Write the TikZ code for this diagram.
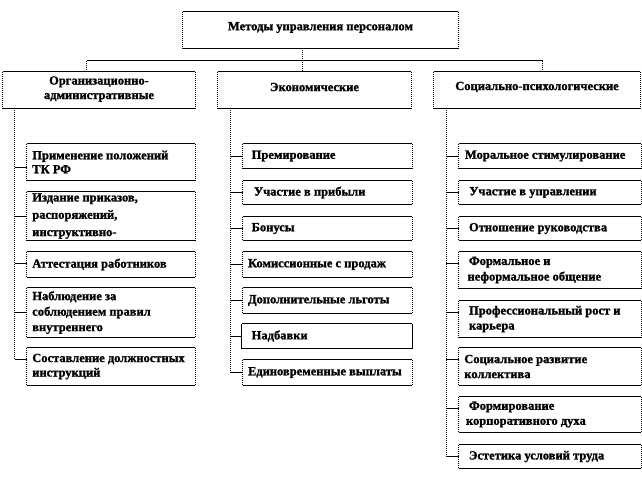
\documentclass[tikz,border=0pt]{standalone}
\usepackage{fontspec}
\setmainfont{Liberation Serif}[BoldFeatures={FakeBold=1.3}]
\tikzset{
  hline/.style={draw=black, line width=0.9pt},
  vline/.style={draw=black, line width=0.8pt, dash pattern=on 1pt off 1pt},
  solidv/.style={draw=black, line width=0.9pt},
  boxn/.style={draw=none, inner sep=0pt, rectangle},
  txt/.style={inner sep=0pt, align=left},
  ctxt/.style={inner sep=0pt, align=center},
}
% name, x1, y1, x2, y2, xoff, baselineskip, text
\newcommand\mkbox[8]{%
  \pgfmathsetmacro\bcx{(#2+#4)/2}%
  \pgfmathsetmacro\bcy{(#3+#5)/2}%
  \pgfmathsetmacro\bw{#4-#2}%
  \pgfmathsetmacro\bh{#5-#3}%
  \node[boxn, minimum width=\bw pt, minimum height=\bh pt] (#1) at (\bcx,\bcy) {};
  \node[txt, font=\fontsize{12.5}{#7}\selectfont\bfseries, anchor=west] (#1t) at ([xshift=#6pt]#1.west) {#8};
  \draw[hline] (#1.north west) -- (#1.north east) (#1.south west) -- (#1.south east);
  \draw[vline] (#1.north west) -- (#1.south west) (#1.north east) -- (#1.south east);
}
% centred text: name, x1, y1, x2, y2, yshift, baselineskip, text
\newcommand\mkcbox[8]{%
  \pgfmathsetmacro\bcx{(#2+#4)/2}%
  \pgfmathsetmacro\bcy{(#3+#5)/2}%
  \pgfmathsetmacro\bw{#4-#2}%
  \pgfmathsetmacro\bh{#5-#3}%
  \node[boxn, minimum width=\bw pt, minimum height=\bh pt] (#1) at (\bcx,\bcy) {};
  \node[ctxt, font=\fontsize{12.5}{#7}\selectfont\bfseries] (#1t) at ([yshift=#6pt]#1.center) {#8};
  \draw[hline] (#1.north west) -- (#1.north east) (#1.south west) -- (#1.south east);
  \draw[vline] (#1.north west) -- (#1.south west) (#1.north east) -- (#1.south east);
}
\begin{document}
\begin{tikzpicture}[x=1pt, y=-1pt]
\useasboundingbox (0,0) rectangle (642,480);
\fill[white] (0,0) rectangle (642,480);

% top and level 2
\mkcbox{top}{183}{12}{458}{48}{2.5}{15}{Методы управления персоналом}
\mkcbox{L}{3}{72}{195}{108}{1}{14.5}{Организационно-\\административные}
\mkcbox{M}{218}{72}{411}{108}{3}{15}{Экономические}
\mkcbox{R}{434}{72}{640}{108}{3}{15}{Социально-психологические}

% connectors from the top box
\coordinate (Tb) at ([xshift=120pt]top.south west);
\coordinate (Ld) at ([xshift=84pt]L.north west);
\coordinate (Md) at ([xshift=85pt]M.north west);
\coordinate (Rd) at ([xshift=108.7pt]R.north west);
\coordinate (busy) at (0,60.5);
\draw[vline] (Tb) -- (Md);
\draw[hline] (Ld |- busy) -- (Rd |- busy);
\draw[vline] (Ld |- busy) -- (Ld);
\draw[vline] (Rd |- busy) -- (Rd);

% left column
\mkbox{l1}{27}{144}{195}{180}{5.3}{14}{Применение положений\\ТК РФ}
\mkbox{l2}{27}{192}{195}{240}{5.3}{17.3}{Издание приказов,\\распоряжений,\\инструктивно-}
\mkbox{l3}{27}{252}{195}{277}{5.3}{15}{Аттестация работников}
\mkbox{l4}{27}{288}{195}{337}{5.3}{15.5}{Наблюдение за\\соблюдением правил\\внутреннего}
\mkbox{l5}{27}{348}{195}{385}{5.3}{14.5}{Составление должностных\\инструкций}

% middle column
\mkbox{m1}{243}{144}{412}{168}{8.7}{15}{Премирование}
\mkbox{m2}{243}{181}{412}{204}{11}{15}{Участие в прибыли}
\mkbox{m3}{243}{217}{412}{240}{8.7}{15}{Бонусы}
\mkbox{m4}{243}{252}{412}{277}{5}{15}{Комиссионные с продаж}
\mkbox{m5}{243}{288}{412}{313}{5}{15}{Дополнительные льготы}
\mkbox{m6}{242}{324}{412}{348}{9.7}{15}{Надбавки}
\draw[solidv] (m6.north west) -- (m6.south west) (m6.north east) -- (m6.south east);
\mkbox{m7}{243}{360}{412}{385}{5}{15}{Единовременные выплаты}

% right column
\mkbox{r1}{459}{144}{641}{168}{6}{15}{Моральное стимулирование}
\mkbox{r2}{459}{181}{641}{204}{10.3}{15}{Участие в управлении}
\mkbox{r3}{459}{217}{641}{240}{10}{15}{Отношение руководства}
\mkbox{r4}{459}{252}{641}{288}{10}{15.6}{Формальное и\\\hspace*{-1.5pt}неформальное общение}
\mkbox{r5}{459}{301}{641}{337}{10}{15}{Профессиональный рост и\\карьера}
\mkbox{r6}{459}{348}{641}{385}{5.3}{15}{Социальное развитие\\коллектива}
\mkbox{r7}{459}{397}{641}{432}{10}{15}{Формирование\\\hspace*{-3pt}корпоративного духа}
\mkbox{r8}{459}{445}{641}{468}{10}{15}{Эстетика условий труда}

% trunks
\coordinate (Lt) at ([xshift=12pt]L.south west);
\coordinate (Mt) at ([xshift=12.5pt]M.south west);
\coordinate (Rt) at ([xshift=12.5pt]R.south west);

% tick points on the boxes
\coordinate (l1k) at ([yshift=-24pt]l1.north west);
\coordinate (l2k) at (l2.west);
\coordinate (l3k) at ([yshift=-12pt]l3.north west);
\coordinate (l4k) at ([yshift=-24.4pt]l4.north west);
\coordinate (l5k) at ([yshift=-11.7pt]l5.north west);
\coordinate (r4k) at ([yshift=-12pt]r4.north west);
\coordinate (r5k) at ([yshift=-12pt]r5.north west);
\coordinate (r6k) at ([yshift=-11.7pt]r6.north west);
\coordinate (r7k) at ([yshift=-11.6pt]r7.north west);

\draw[vline] (Lt) -- (Lt |- l5k);
\foreach \k in {l1k,l2k,l3k,l4k,l5k}{\draw[hline] (Lt |- \k) -- (\k);}

\draw[vline] (Mt) -- (Mt |- m7.west);
\foreach \k in {m1,m2,m3,m4,m5,m6,m7}{\draw[hline] (Mt |- \k.west) -- (\k.west);}

\draw[vline] (Rt) -- (Rt |- r8.west);
\foreach \k in {r1.west,r2.west,r3.west,r4k,r5k,r6k,r7k,r8.west}{\draw[hline] (Rt |- \k) -- (\k);}
\end{tikzpicture}
\end{document}
